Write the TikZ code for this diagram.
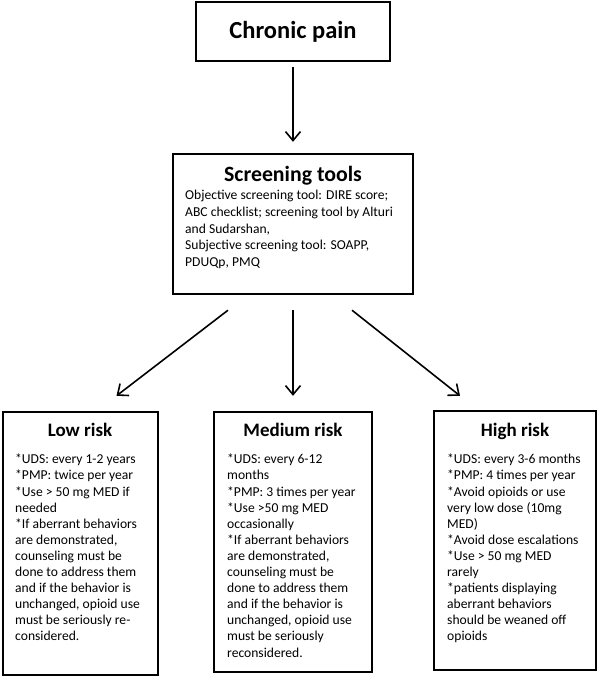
\documentclass[tikz,border=0pt]{standalone}
\usepackage{fontspec}
\setmainfont{Carlito}
\usetikzlibrary{arrows.meta}

\tikzset{
  box/.style={draw, line width=2.4pt, inner sep=0pt},
  head/.style={anchor=base, inner sep=0pt, font=\bfseries\fontsize{19}{23}\selectfont},
  body/.style={anchor=north west, inner sep=0pt, align=left, font=\fontsize{13.6}{16.1}\selectfont},
  arr/.style={line width=1.6pt, -{Straight Barb[length=9pt,width=15pt,line width=1.6pt]}}
}

\begin{document}
\begin{tikzpicture}[x=1pt,y=-1pt]
  \useasboundingbox (0,0) rectangle (600,678);

% top boxes
  \node[box, minimum width=194pt, minimum height=59pt, font=\bfseries\fontsize{24.5}{28}\selectfont] (pain) at (293,31.5) {Chronic pain};
  \node[box, minimum width=240pt, minimum height=140pt] (screen) at (293,224) {};
  \node[head, font=\bfseries\fontsize{21.8}{26}\selectfont] (screenhead) at (293,181) {Screening tools};
  \node[body, font=\fontsize{13.6}{16.7}\selectfont] (screenbody) at (185,190) {Objective screening tool: DIRE score;\\ABC checklist; screening tool by Alturi\\and Sudarshan,\\Subjective screening tool: SOAPP,\\PDUQp, PMQ};

% risk boxes
  \node[box, minimum width=155pt, minimum height=263pt] (low) at (80.5,543.5) {};
  \node[box, minimum width=158pt, minimum height=260pt] (medium) at (293,542) {};
  \node[box, minimum width=162pt, minimum height=259pt] (high) at (515,540.5) {};

  \node[head] (lowhead) at (80,436) {Low risk};
  \node[head] (mediumhead) at (293,436) {Medium risk};
  \node[head] (highhead) at (515,436) {High risk};

  \node[body] (lowbody) at (15,454) {*UDS: every 1-2 years\\*PMP: twice per year\\*Use > 50 mg MED if\\needed\\*If aberrant behaviors\\are demonstrated,\\counseling must be\\done to address them\\and if the behavior is\\unchanged, opioid use\\must be seriously re-\\considered.};
  \node[body] (mediumbody) at (227,454) {*UDS: every 6-12\\months\\*PMP: 3 times per year\\*Use >50 mg MED\\occasionally\\*If aberrant behaviors\\are demonstrated,\\counseling must be\\done to address them\\and if the behavior is\\unchanged, opioid use\\must be seriously\\reconsidered.};
  \node[body] (highbody) at (447,454) {*UDS: every 3-6 months\\*PMP: 4 times per year\\*Avoid opioids or use\\very low dose (10mg\\MED)\\*Avoid dose escalations\\*Use > 50 mg MED\\rarely\\*patients displaying\\aberrant behaviors\\should be weaned off\\opioids};

% arrows
  \draw[arr] ([yshift=-5pt]pain.south) -- ([yshift=11pt]screen.north);
  \draw[arr] ([xshift=-65pt,yshift=-15pt]screen.south) -- ([xshift=36pt,yshift=15pt]low.north);
  \draw[arr] ([yshift=-15pt]screen.south) -- ([yshift=15pt]medium.north);
  \draw[arr] ([xshift=59pt,yshift=-15pt]screen.south) -- ([xshift=-55pt,yshift=14pt]high.north);

\end{tikzpicture}
\end{document}
